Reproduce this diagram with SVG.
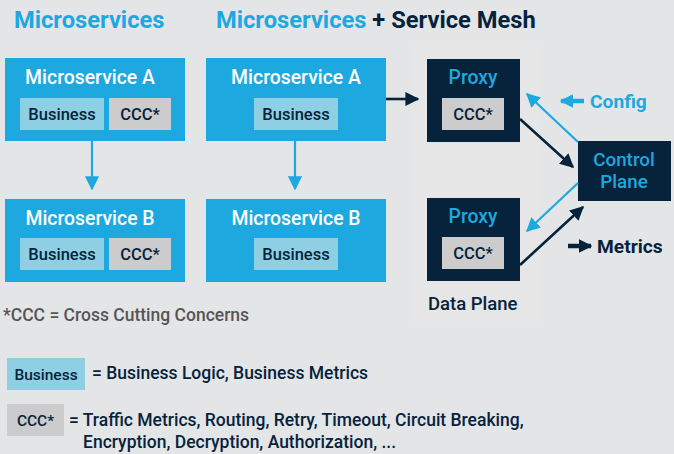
<svg xmlns="http://www.w3.org/2000/svg" width="674" height="454" viewBox="0 0 674 454">
  <defs>
    <style>
      text { font-family: Roboto, "Liberation Sans", Arial, sans-serif; }
      .title { font-size: 23.7px; font-weight: 700; fill: #1ea8e0; }
      .title-dark { fill: #06233b; }
      .side { font-size: 19.2px; font-weight: 700; fill: #1ea8e0; }
      .side-dark { font-size: 19.2px; font-weight: 700; fill: #06233b; }
      .svc { fill: #1ea8e0; }
      .svc-label { font-size: 19.4px; font-weight: 500; fill: #ffffff; text-anchor: middle; }
      .biz { fill: #8ecfe3; }
      .ccc { fill: #cccccc; }
      .chip { font-size: 16.5px; font-weight: 500; fill: #06233b; text-anchor: middle; }
      .chip-small { font-size: 15.5px; }
      .dark { fill: #06233b; }
      .dark-label { font-size: 19.3px; font-weight: 500; fill: #1ea8e0; text-anchor: middle; }
      .blue-line { stroke: #1ea8e0; stroke-width: 2.2; fill: none; }
      .dark-line { stroke: #06233b; stroke-width: 2.6; fill: none; }
      .thick { stroke-width: 4.5; }
      .note { font-size: 17.5px; font-weight: 500; fill: #555555; }
      .legend { font-size: 17.5px; font-weight: 500; fill: #06233b; }
    </style>
    <marker id="headBlue" viewBox="0 0 10 10" refX="9" refY="5" markerWidth="6.4" markerHeight="6.4" orient="auto" markerUnits="strokeWidth">
      <path d="M0,0 L10,5 L0,10 z" fill="#1ea8e0"/>
    </marker>
    <marker id="headDark" viewBox="0 0 10 10" refX="9" refY="5" markerWidth="5.4" markerHeight="5.4" orient="auto" markerUnits="strokeWidth">
      <path d="M0,0 L10,5 L0,10 z" fill="#06233b"/>
    </marker>
    <marker id="headBlueBig" viewBox="0 0 10 10" refX="9" refY="5" markerWidth="3" markerHeight="3" orient="auto" markerUnits="strokeWidth">
      <path d="M0,0 L10,5 L0,10 z" fill="#1ea8e0"/>
    </marker>
    <marker id="headDarkBig" viewBox="0 0 10 10" refX="9" refY="5" markerWidth="3" markerHeight="3" orient="auto" markerUnits="strokeWidth">
      <path d="M0,0 L10,5 L0,10 z" fill="#06233b"/>
    </marker>
  </defs>

  <rect x="0" y="0" width="674" height="454" fill="#e4e5e7"/>

  <!-- data plane panel -->
  <rect x="410" y="43" width="130" height="280" fill="#e6e6e7"/>

  <!-- headings -->
  <text class="title" x="14" y="28">Microservices</text>
  <text class="title" x="216" y="28">Microservices<tspan class="title-dark"> + Service Mesh</tspan></text>

  <!-- plain microservices -->
  <g id="ms-a-plain">
    <rect class="svc" x="5" y="58" width="180" height="83"/>
    <text class="svc-label" x="90" y="84">Microservice A</text>
    <rect class="biz" x="20" y="98" width="84" height="32"/>
    <text class="chip" x="62" y="120">Business</text>
    <rect class="ccc" x="109" y="98" width="62" height="32"/>
    <text class="chip" x="140" y="120">CCC*</text>
  </g>
  <g id="ms-b-plain">
    <rect class="svc" x="5" y="199" width="180" height="83"/>
    <text class="svc-label" x="90" y="225">Microservice B</text>
    <rect class="biz" x="20" y="238" width="84" height="32"/>
    <text class="chip" x="62" y="260">Business</text>
    <rect class="ccc" x="109" y="238" width="62" height="32"/>
    <text class="chip" x="140" y="260">CCC*</text>
  </g>

  <!-- mesh microservices -->
  <g id="ms-a-mesh">
    <rect class="svc" x="206" y="58" width="180" height="83"/>
    <text class="svc-label" x="296" y="84">Microservice A</text>
    <rect class="biz" x="254" y="98" width="84" height="32"/>
    <text class="chip" x="296" y="120">Business</text>
  </g>
  <g id="ms-b-mesh">
    <rect class="svc" x="206" y="199" width="180" height="83"/>
    <text class="svc-label" x="296" y="225">Microservice B</text>
    <rect class="biz" x="254" y="238" width="84" height="32"/>
    <text class="chip" x="296" y="260">Business</text>
  </g>

  <g id="proxy-a">
    <rect class="dark" x="427" y="59" width="93" height="83"/>
    <text class="dark-label" x="473" y="84">Proxy</text>
    <rect class="ccc" x="442" y="98" width="62" height="32"/>
    <text class="chip" x="473" y="120">CCC*</text>
  </g>
  <g id="proxy-b">
    <rect class="dark" x="427" y="198" width="93" height="83"/>
    <text class="dark-label" x="473" y="223">Proxy</text>
    <rect class="ccc" x="442" y="237" width="62" height="32"/>
    <text class="chip" x="473" y="259">CCC*</text>
  </g>

  <g id="control-plane">
    <rect class="dark" x="578" y="141" width="93" height="60"/>
    <text class="dark-label" x="624" y="166" style="font-size:18.8px">Control</text>
    <text class="dark-label" x="624" y="188" style="font-size:18.8px">Plane</text>
  </g>

  <g id="data-plane-label">
    <text class="legend" x="428" y="310" style="font-size:18.5px">Data Plane</text>
  </g>

  <!-- connectors -->
  <g id="connectors">
    <line class="blue-line" x1="92" y1="141" x2="92" y2="189" marker-end="url(#headBlue)"/>
    <line class="blue-line" x1="295" y1="141" x2="295" y2="189" marker-end="url(#headBlue)"/>
    <line class="dark-line" x1="386" y1="99" x2="418" y2="99" marker-end="url(#headDark)"/>
    <line class="dark-line" x1="520" y1="119" x2="573" y2="167" marker-end="url(#headDark)"/>
    <line class="blue-line" x1="578" y1="142" x2="527" y2="94" marker-end="url(#headBlue)"/>
    <line class="blue-line" x1="578" y1="183" x2="527" y2="231" marker-end="url(#headBlue)"/>
    <line class="dark-line" x1="520" y1="265" x2="583" y2="207" marker-end="url(#headDark)"/>
    <line class="blue-line thick" x1="584" y1="101" x2="561" y2="101" marker-end="url(#headBlueBig)"/>
    <line class="dark-line thick" x1="568" y1="246" x2="591" y2="246" marker-end="url(#headDarkBig)"/>
  </g>

  <g id="config-label">
    <text class="side" x="590" y="108">Config</text>
  </g>
  <g id="metrics-label">
    <text class="side-dark" x="597" y="253">Metrics</text>
  </g>

  <!-- footnote and legend -->
  <text class="note" x="3" y="321">*CCC = Cross Cutting Concerns</text>

  <g id="legend-business">
    <rect class="biz" x="7" y="358" width="78" height="32"/>
    <text class="chip chip-small" x="46" y="380">Business</text>
    <text class="legend" x="92" y="379">= Business Logic, Business Metrics</text>
  </g>
  <g id="legend-ccc">
    <rect class="ccc" x="7" y="404" width="57" height="32"/>
    <text class="chip chip-small" x="35.5" y="426">CCC*</text>
    <text class="legend" x="69" y="426">= Traffic Metrics, Routing, Retry, Timeout, Circuit Breaking,</text>
    <text class="legend" x="83" y="448">Encryption, Decryption, Authorization, ...</text>
  </g>
</svg>
